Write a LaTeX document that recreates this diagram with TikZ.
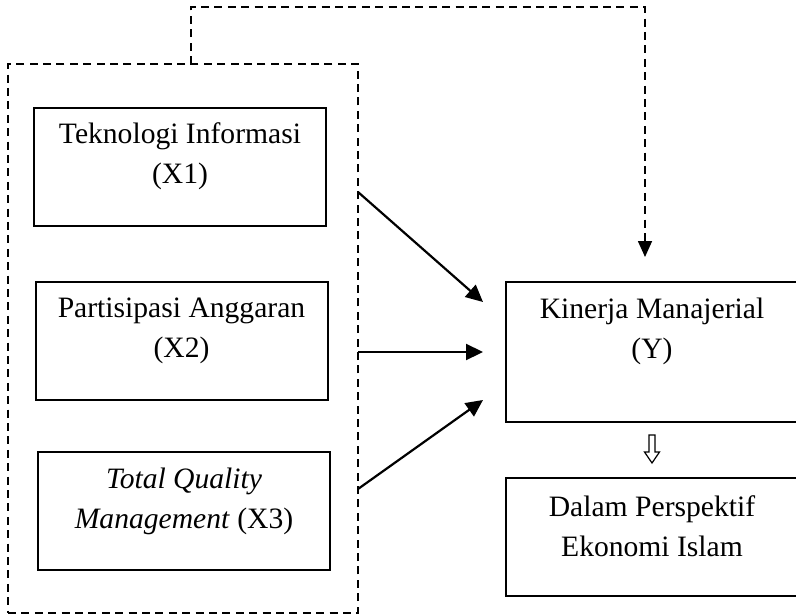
\documentclass[tikz,border=0pt]{standalone}
\usepackage{fontspec}
\setmainfont{Liberation Serif}
\usetikzlibrary{arrows.meta}
\tikzset{
  box/.style={draw, line width=1.1pt, rectangle, inner sep=0pt},
  txt/.style={align=center, font=\fontsize{14.8}{20}\selectfont, inner sep=0pt},
  dashline/.style={line width=0.8pt, dash pattern=on 4pt off 2.7pt},
  conn/.style={line width=1.1pt, -{Triangle[length=8.5pt,width=8pt]}},
}
\begin{document}
\begin{tikzpicture}[x=0.5pt,y=-0.5pt]
\useasboundingbox (0,0) rectangle (796,615);
% outer dashed group
\node[dashline, draw, rectangle, minimum width=175pt, minimum height=274.5pt, inner sep=0pt] (grp) at (183,338.5) {};
% boxes
\node[box, minimum width=146pt, minimum height=59pt] (x1) at (180,167) {};
\node[box, minimum width=146pt, minimum height=59pt] (x2) at (182,341) {};
\node[box, minimum width=146pt, minimum height=59pt] (x3) at (184,511) {};
\node[box, minimum width=146pt, minimum height=70pt] (y) at (652,352) {};
\node[box, minimum width=146pt, minimum height=59pt] (d) at (652,537) {};
% texts
\node[txt] (x1t) at (180,156) {Teknologi Informasi\\(X1)};
\node[txt] (x2t) at (181.5,330.5) {Partisipasi Anggaran\\(X2)};
\node[txt] (x3t) at (184,501) {\textit{Total Quality}\\\textit{Management} (X3)};
\node[txt] (yt) at (652,331) {Kinerja Manajerial\\(Y)};
\node[txt] (dt) at (652,526.5) {Dalam Perspektif\\Ekonomi Islam};
% connector coordinates
\coordinate (s1) at (358,192);
\coordinate (e1) at (483,302);
\coordinate (s2) at (358,352);
\coordinate (e2) at (483,352);
\coordinate (s3) at (358,489);
\coordinate (e3) at (483,400);
\coordinate (gt) at (191,64);
\coordinate (tl) at (191,7);
\coordinate (tr) at (645,7);
\coordinate (te) at (645,257);
\draw[conn] (s1) -- (e1);
\draw[conn] (s2) -- (e2);
\draw[conn] (s3) -- (e3);
\draw[dashline, -{Triangle[length=8pt,width=7pt]}] (gt) -- (tl) -- (tr) -- (te);
% hollow down arrow
\draw[line width=0.6pt, fill=white] (649,435) -- (655,435) -- (655,452) -- (659.5,452) -- (652,463) -- (644.5,452) -- (649,452) -- cycle;
\end{tikzpicture}
\end{document}
